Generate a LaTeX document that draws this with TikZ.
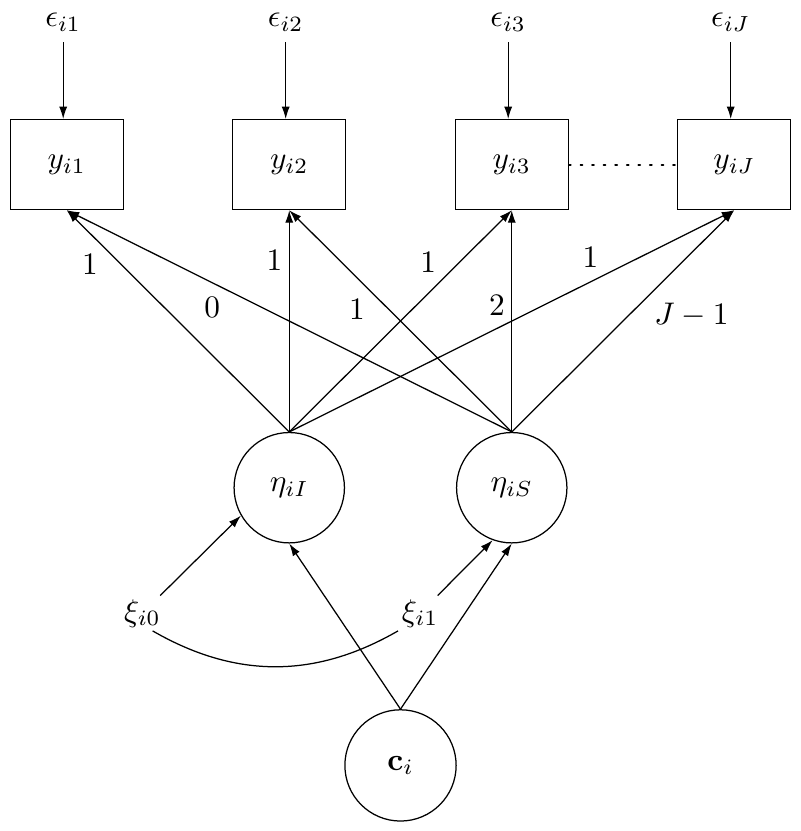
\documentclass[tikz,border=0pt]{standalone}
\usepackage{tikz}
\usetikzlibrary{calc, arrows.meta, positioning}

\tikzset{
    obs/.style={draw, rectangle, minimum width=1.27cm, minimum height=1.01cm},
    lat/.style={draw, circle, minimum size=1.24cm},
    arr/.style={-{Latex[length=4pt,width=2.6pt]}},
    wlab/.style={inner sep=2pt}
}

\begin{document}
\begin{tikzpicture}
        \useasboundingbox (0,0) rectangle (8.99,-9.337);
        
        % observed
        \node[obs] (y1) at (0.75,-1.85) {$y_{i1}$};
        \node[obs] (y2) at (3.25,-1.85) {$y_{i2}$};
        \node[obs] (y3) at (5.75,-1.85) {$y_{i3}$};
        \node[obs] (yJ) at (8.25,-1.85) {$y_{iJ}$};
        
        % errors
        \node (e1) at (0.71,-0.25) {$\epsilon_{i1}$};
        \node (e2) at (3.21,-0.25) {$\epsilon_{i2}$};
        \node (e3) at (5.71,-0.25) {$\epsilon_{i3}$};
        \node (eJ) at (8.21,-0.25) {$\epsilon_{iJ}$};
        
        % latent
        \node[lat] (etaI) at (3.25,-5.48) {$\eta_{iI}$};
        \node[lat] (etaS) at (5.75,-5.48) {$\eta_{iS}$};
        \node[lat, minimum size=1.25cm] (c) at (4.5,-8.6) {$\mathbf{c}_i$};
        
        \node[inner sep=1pt] (xi0) at (1.6,-6.89) {$\xi_{i0}$};
        \node[inner sep=1pt] (xi1) at (4.72,-6.89) {$\xi_{i1}$};
        
        \draw[arr] (e1) -- (e1 |- y1.north);
        \draw[arr] (e2) -- (e2 |- y2.north);
        \draw[arr] (e3) -- (e3 |- y3.north);
        \draw[arr] (eJ) -- (eJ |- yJ.north);
        
        \draw[dash pattern=on 0.6pt off 3.1pt, line width=0.6pt, line cap=round] (y3.east) -- (yJ.west);
        
        % intercept
        \draw[arr] (etaI.north) -- node[wlab, pos=0.83, below left] {$1$} (y1.south);
        \draw[arr] (etaI.north) -- node[wlab, pos=0.775, left] {$1$} (y2.south);
        \draw[arr] (etaI.north) -- node[wlab, pos=0.69, above left] {$1$} (y3.south);
        \draw[arr] (etaI.north) -- node[wlab, pos=0.71, above left] {$1$} (yJ.south);
        
        % slope
        \draw[arr] (etaS.north) -- node[wlab, pos=0.64, below left] {$0$} (y1.south);
        \draw[arr] (etaS.north) -- node[wlab, pos=0.63, below left] {$1$} (y2.south);
        \draw[arr] (etaS.north) -- node[wlab, pos=0.572, left] {$2$} (y3.south);
        \draw[arr] (etaS.north) -- node[wlab, pos=0.61, below right] {$J-1$} (yJ.south);
        
        \draw[arr] (xi0) -- (etaI.210);
        \draw[arr] (xi1) -- (etaS.250);
        \draw (xi0.300) to[bend right=30] (xi1.south west);
        
        \draw[arr] (c.north) -- (etaI.south);
        \draw[arr] (c.north) -- (etaS.south);
        
    \end{tikzpicture}
\end{document}
